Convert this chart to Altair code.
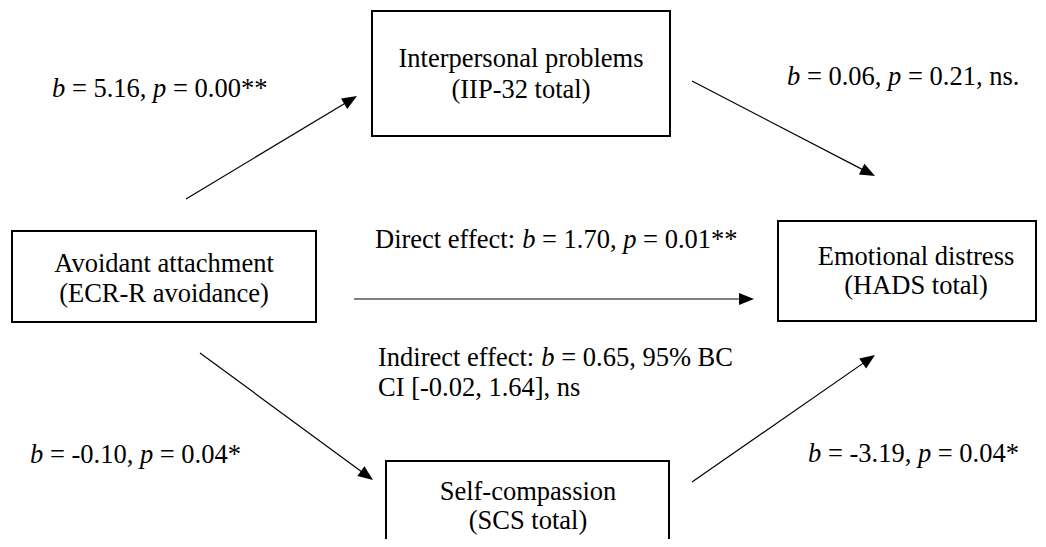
import math
import re
import altair as alt
import pandas as pd

FONT = "Liberation Serif"
FS = 26.5

# ---- boxes (nodes) ----
box_names = ["Interpersonal problems", "Avoidant attachment", "Emotional distress", "Self-compassion"]
box_sub = ["(IIP-32 total)", "(ECR-R avoidance)", "(HADS total)", "(SCS total)"]
box_x1 = [372, 12, 778, 386]
box_x2 = [670, 316, 1036, 669]
box_y1 = [11, 231, 221, 461]
box_y2 = [136, 322, 321, 570]
box_text_x = [521, 164, 916, 528]
box_line1_y = [67, 272, 265, 500]
box_line2_y = [98, 302, 294, 529]

# ---- arrows (paths) ----
arrow_x1 = [186, 692, 354, 200, 692]
arrow_y1 = [199, 81, 299, 353, 482]
arrow_x2 = [357, 875, 754, 373, 875]
arrow_y2 = [96, 176, 299, 480, 355]

# ---- path labels (_x_ = italic) ----
label_texts = [
    "_b_ = 5.16, _p_ = 0.00**",
    "_b_ = 0.06, _p_ = 0.21, ns.",
    "Direct effect: _b_ = 1.70, _p_ = 0.01**",
    "Indirect effect: _b_ = 0.65, 95% BC",
    "CI [-0.02, 1.64], ns",
    "_b_ = -0.10, _p_ = 0.04*",
    "_b_ = -3.19, _p_ = 0.04*",
]
label_x = [52, 787, 375, 378, 378, 30, 808]
label_y = [97, 85, 248, 366, 396, 463, 462]

# Times / Liberation Serif advance widths (per 1000 em)
W = {' ': 250, '=': 564, '.': 250, ',': 250, '*': 500, '%': 833, '[': 333, ']': 333,
     '-': 333, ':': 278, '(': 333, ')': 333,
     'A': 722, 'B': 667, 'C': 667, 'D': 722, 'E': 611, 'H': 722, 'I': 333, 'P': 556,
     'R': 667, 'S': 556,
     'a': 444, 'b': 500, 'c': 444, 'd': 500, 'e': 444, 'f': 333, 'g': 500, 'h': 500,
     'i': 278, 'j': 278, 'k': 500, 'l': 278, 'm': 778, 'n': 500, 'o': 500, 'p': 500,
     'q': 500, 'r': 333, 's': 389, 't': 278, 'u': 500, 'v': 500, 'w': 722, 'x': 500,
     'y': 500, 'z': 444}
for d in "0123456789":
    W[d] = 500


def tw(s):
    return sum(W.get(c, 500) for c in s) / 1000.0 * FS


# build text rows
seg_rows = []
for txt, x0, y0 in zip(label_texts, label_x, label_y):
    parts = txt.split("_")
    cx = x0
    for k, part in enumerate(parts):
        ital = (k % 2 == 1)
        for tok in re.split(r"( )", part):
            if tok == "":
                continue
            if tok != " ":
                seg_rows.append(dict(x=cx, y=y0, text=tok, style="italic" if ital else "normal"))
            cx += tw(tok)
seg_df = pd.DataFrame(seg_rows)

center_rows = []
for i in range(len(box_names)):
    center_rows.append(dict(x=box_text_x[i], y=box_line1_y[i], text=box_names[i]))
    center_rows.append(dict(x=box_text_x[i], y=box_line2_y[i], text=box_sub[i]))
center_df = pd.DataFrame(center_rows)

box_df = pd.DataFrame(dict(x=box_x1, x2=box_x2, y=box_y1, y2=box_y2))

HEAD = 15.0
arr_rows = []
for a, b, c, d in zip(arrow_x1, arrow_y1, arrow_x2, arrow_y2):
    dx, dy = c - a, d - b
    L = math.hypot(dx, dy)
    ux, uy = dx / L, dy / L
    ang = math.degrees(math.atan2(dx, -dy)) % 360
    arr_rows.append(dict(x=a, y=b, x2=c - ux * HEAD * 0.6, y2=d - uy * HEAD * 0.6,
                         hx=c - ux * HEAD / 2, hy=d - uy * HEAD / 2, angle=ang))
arr_df = pd.DataFrame(arr_rows)

xs = alt.Scale(domain=[8, 1038], nice=False, zero=False)
ys = alt.Scale(domain=[8, 539], nice=False, zero=False, reverse=True)

boxes = alt.Chart(box_df).mark_rect(fill="white", stroke="black", strokeWidth=2, clip=True).encode(
    x=alt.X("x:Q", scale=xs, axis=None), x2="x2:Q",
    y=alt.Y("y:Q", scale=ys, axis=None), y2="y2:Q")

lines = alt.Chart(arr_df).mark_rule(color="black", strokeWidth=1.2).encode(
    x=alt.X("x:Q", scale=xs, axis=None), x2="x2:Q",
    y=alt.Y("y:Q", scale=ys, axis=None), y2="y2:Q")

heads = alt.Chart(arr_df).mark_point(shape="M0,-1L0.8,1L-0.8,1Z", filled=True, color="black",
                                     opacity=1, size=HEAD * HEAD, strokeWidth=0).encode(
    x=alt.X("hx:Q", scale=xs, axis=None),
    y=alt.Y("hy:Q", scale=ys, axis=None),
    angle=alt.Angle("angle:Q", scale=None))

ctext = alt.Chart(center_df).mark_text(font=FONT, fontSize=FS, align="center",
                                       baseline="alphabetic", color="black").encode(
    x=alt.X("x:Q", scale=xs, axis=None), y=alt.Y("y:Q", scale=ys, axis=None), text="text:N")

ntext = alt.Chart(seg_df[seg_df["style"] == "normal"]).mark_text(
    font=FONT, fontSize=FS, align="left", baseline="alphabetic", color="black").encode(
    x=alt.X("x:Q", scale=xs, axis=None), y=alt.Y("y:Q", scale=ys, axis=None), text="text:N")

itext = alt.Chart(seg_df[seg_df["style"] == "italic"]).mark_text(
    font=FONT, fontSize=FS, fontStyle="italic", align="left", baseline="alphabetic",
    color="black").encode(
    x=alt.X("x:Q", scale=xs, axis=None), y=alt.Y("y:Q", scale=ys, axis=None), text="text:N")

chart = alt.layer(boxes, lines, heads, ctext, ntext, itext).properties(
    width=1030, height=531, padding=0,
    autosize=alt.AutoSizeParams(type="none"),
).configure_view(stroke=None)

chart.save("out.html", embed_options={"renderer": "svg", "actions": False})
